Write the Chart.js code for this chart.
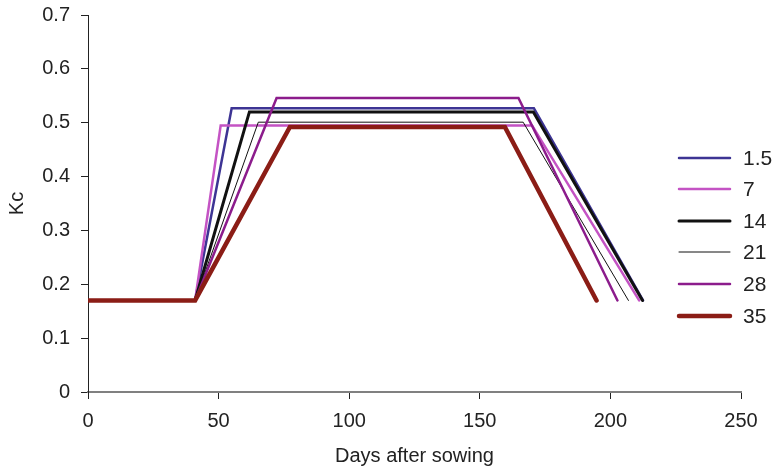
<!DOCTYPE html>
<html>
<head>
<meta charset="utf-8">
<script src="https://cdn.jsdelivr.net/npm/chart.js@4/dist/chart.umd.min.js"></script>
<style>
html,body{margin:0;padding:0;background:#fff;}
#wrap{width:775px;height:471px;position:relative;}
</style>
</head>
<body>
<div id="wrap"><canvas id="c" width="775" height="471"></canvas></div>
<script>
// Series labels
const seriesLabels = ["1.5", "7", "14", "21", "28", "35"];
// Days after sowing breakpoints for each series
const days_1_5 = [0, 41, 55, 170.7, 212.5];
const days_7   = [0, 41, 50.8, 170, 211];
const days_14  = [0, 41, 61.8, 170.5, 212.3];
const days_21  = [0, 41, 65.2, 166.6, 206.9];
const days_28  = [0, 41, 72.2, 164.8, 202.7];
const days_35  = [0, 41, 77.3, 159.6, 194.7];
// Kc values at those breakpoints
const kc_1_5 = [0.17, 0.17, 0.527, 0.527, 0.17];
const kc_7   = [0.17, 0.17, 0.495, 0.495, 0.17];
const kc_14  = [0.17, 0.17, 0.520, 0.520, 0.17];
const kc_21  = [0.17, 0.17, 0.501, 0.501, 0.17];
const kc_28  = [0.17, 0.17, 0.546, 0.546, 0.17];
const kc_35  = [0.17, 0.17, 0.492, 0.492, 0.17];
// Axis ticks
const xTicks = [0, 50, 100, 150, 200, 250];
const yTicks = [0, 0.1, 0.2, 0.3, 0.4, 0.5, 0.6, 0.7];

const allDays = [days_1_5, days_7, days_14, days_21, days_28, days_35];
const allKc = [kc_1_5, kc_7, kc_14, kc_21, kc_28, kc_35];
const colors = ["#3d3494", "#c453c4", "#111111", "#111111", "#8c1c8c", "#8b1d16"];
const widths = [2.5, 2.5, 3, 1, 2.5, 4.5];

const pts = (xs, ys) => xs.map((x, i) => ({x: x, y: ys[i]}));

const datasets = seriesLabels.map((lab, i) => ({
  label: lab,
  data: pts(allDays[i], allKc[i]),
  borderColor: colors[i],
  backgroundColor: colors[i],
  borderWidth: widths[i],
  pointRadius: 0,
  showLine: true,
  fill: false,
  tension: 0,
  order: seriesLabels.length - i,
  borderJoinStyle: 'miter',
  borderCapStyle: 'round'
}));
const FONT = "'Liberation Sans', Arial, sans-serif";

const legendPlugin = {
  id: 'customLegend',
  afterDraw(chart) {
    const ctx = chart.ctx;
    const rows = [158, 189, 221, 252, 284, 316];
    ctx.save();
    chart.data.datasets.forEach((ds, i) => {
      const y = rows[i];
      ctx.beginPath();
      ctx.strokeStyle = ds.borderColor;
      ctx.lineWidth = ds.borderWidth;
      ctx.lineCap = 'round';
      ctx.moveTo(679, y);
      ctx.lineTo(730, y);
      ctx.stroke();
      ctx.fillStyle = '#222';
      ctx.font = "21px " + FONT;
      ctx.textBaseline = 'middle';
      ctx.textAlign = 'left';
      ctx.fillText(ds.label, 743, y + 1);
    });
    ctx.restore();
  }
};

new Chart(document.getElementById('c'), {
  type: 'scatter',
  data: { datasets: datasets },
  options: {
    responsive: false,
    animation: false,
    devicePixelRatio: 1,
    layout: { padding: { top: 15, right: 34, left: 0, bottom: 0 } },
    plugins: { legend: { display: false }, tooltip: { enabled: false } },
    scales: {
      x: {
        type: 'linear',
        min: 0, max: 250,
        afterBuildTicks: (s) => { s.ticks = xTicks.map(v => ({value: v})); },
        afterFit: (s) => { s.height = 79; },
        grid: { drawOnChartArea: false, drawTicks: true, tickLength: 7, color: '#222', lineWidth: 1 },
        border: { display: true, color: '#808080', width: 2 },
        ticks: { color: '#222', font: { family: FONT, size: 20 }, padding: 10, maxRotation: 0 },
        title: { display: true, text: 'Days after sowing', color: '#222', font: { family: FONT, size: 20 }, padding: { top: 0, bottom: 3 } }
      },
      y: {
        type: 'linear',
        min: 0, max: 0.7,
        afterBuildTicks: (s) => { s.ticks = yTicks.map(v => ({value: v})); },
        afterFit: (s) => { s.width = 88; },
        grid: { drawOnChartArea: false, drawTicks: true, tickLength: 7, color: '#222', lineWidth: 1 },
        border: { display: true, color: '#222', width: 1 },
        ticks: { color: '#222', font: { family: FONT, size: 20, lineHeight: 0.3 }, padding: 11,
                 callback: (v) => String(Math.round(v * 10) / 10) },
        title: { display: true, text: 'Kc', color: '#222', font: { family: FONT, size: 20 }, padding: { top: 5, bottom: 0 } }
      }
    }
  },
  plugins: [legendPlugin]
});
</script>
</body>
</html>
